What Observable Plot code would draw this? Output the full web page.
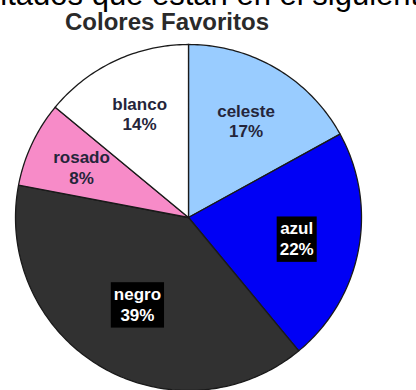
<!DOCTYPE html>
<html><head><meta charset="utf-8">
<script src="https://cdn.jsdelivr.net/npm/d3@7"></script>
<script src="https://cdn.jsdelivr.net/npm/@observablehq/plot@0.6"></script>
<style>
body{margin:0;background:#fff;overflow:hidden}
#wrap{position:relative;width:416px;height:390px;overflow:hidden;background:#fff}
#chart{position:absolute;left:0;top:0}
#top{position:absolute;left:-60px;top:-19px;font:31px/28px "Liberation Sans",Arial,sans-serif;white-space:nowrap;color:#000}
#title{position:absolute;left:0;width:334px;text-align:center;top:11px;font:bold 24px/22px "Liberation Sans",Arial,sans-serif;color:#2a2a2a}
</style></head>
<body>
<div id="wrap">
  <div id="chart"></div>
  <div id="top">resultados que están en el siguiente gráfico</div>
  <div id="title">Colores Favoritos</div>
</div>
<script>
const colores = ["celeste", "azul", "negro", "rosado", "blanco"];
const porcentajes = [17, 22, 39, 8, 14];
const paleta = ["#99ccff", "#0000f5", "#313131", "#f78bc8", "#ffffff"];

const cx = 188, cy = 217, R = 173;
const total = d3.sum(porcentajes);
let acc = 0;
const slices = colores.map((c, i) => {
  const a0 = acc / total * 2 * Math.PI;
  acc += porcentajes[i];
  const a1 = acc / total * 2 * Math.PI;
  return {c, p: porcentajes[i], a0, a1, col: paleta[i]};
});
const pts = slices.flatMap(s => {
  const n = Math.max(2, Math.ceil((s.a1 - s.a0) / (Math.PI / 180)));
  const arr = [{c: s.c, x: 0, y: 0}];
  for (let k = 0; k <= n; k++) {
    const a = s.a0 + (s.a1 - s.a0) * k / n;
    arr.push({c: s.c, x: Math.sin(a), y: Math.cos(a)});
  }
  return arr;
});
const maxP = d3.max(porcentajes);
const labels = slices.map(s => {
  const mid = (s.a0 + s.a1) / 2;
  const r = 0.58 + 0.13 * (1 - s.p / maxP);
  const dark = d3.lab(s.col).l < 50;
  return {x: r * Math.sin(mid), y: r * Math.cos(mid), text: `${s.c}\n${s.p}%`, dark};
});

const chart = Plot.plot({
  width: 416, height: 390, margin: 0,
  style: {background: "transparent", overflow: "visible"},
  x: {domain: [-1, 1], range: [cx - R, cx + R], axis: null},
  y: {domain: [-1, 1], range: [cy + R, cy - R], axis: null},
  color: {domain: colores, range: paleta},
  marks: [
    Plot.line(pts, {x: "x", y: "y", z: "c", fill: "c", stroke: "#1a1a1a", strokeWidth: 1.3, curve: "linear-closed"}),
    Plot.text(labels, {x: "x", y: "y", text: "text", fill: d => d.dark ? "#ffffff" : "#25253a",
      fontSize: 17, fontWeight: "bold", fontFamily: "Liberation Sans, Arial, sans-serif", lineHeight: 1.2,
      className: "lbl"})
  ]
});
document.getElementById("chart").appendChild(chart);

// black boxes behind the white labels
d3.select(chart).selectAll("g.lbl text").each(function() {
  const fill = this.getAttribute("fill") || "";
  if (fill.toLowerCase() !== "#ffffff" && fill.toLowerCase() !== "white") return;
  const b = this.getBBox();
  const tr = this.getAttribute("transform") || "";
  const rect = document.createElementNS("http://www.w3.org/2000/svg", "rect");
  rect.setAttribute("x", b.x - 3);
  rect.setAttribute("y", b.y - 3);
  rect.setAttribute("width", b.width + 6);
  rect.setAttribute("height", b.height + 6);
  rect.setAttribute("fill", "#000");
  if (tr) rect.setAttribute("transform", tr);
  this.parentNode.insertBefore(rect, this);
});
</script>
</body></html>
